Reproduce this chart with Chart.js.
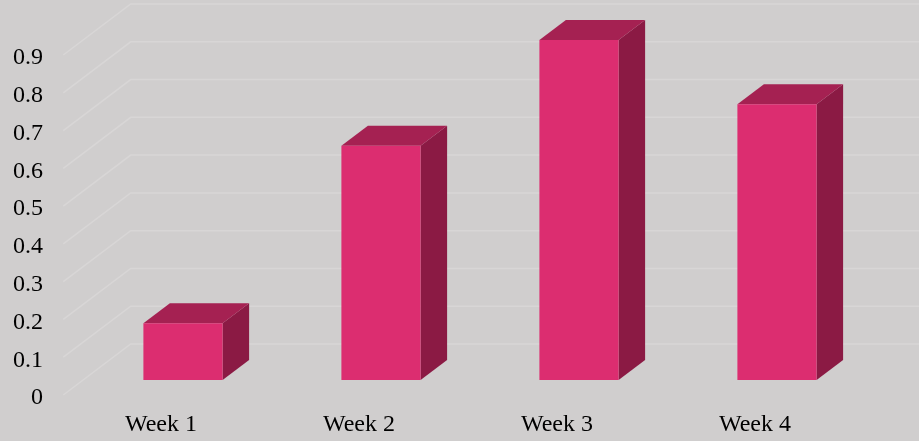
<!DOCTYPE html>
<html lang="en">
<head>
    <meta charset="UTF-8">
    <title>Weekly values</title>
    <script src="https://cdn.jsdelivr.net/npm/chart.js"></script>
    <style>
        html, body { margin: 0; padding: 0; background: #d0cece; overflow: hidden; }
        canvas { display: block; }
    </style>
</head>
<body>
    <canvas id="chart" width="919" height="441"></canvas>
    <script>
    // Values
    const weeks = ['Week 1', 'Week 2', 'Week 3', 'Week 4'];
    const values = [0.15, 0.62, 0.9, 0.73];
    const yTickLabels = ['0', '0.1', '0.2', '0.3', '0.4', '0.5', '0.6', '0.7', '0.8', '0.9'];

    // Fake 3D: how far the walls and the bars recede from the value scale
    const floorFront = { dx: -20.7, dy: 15 };
    const floorBack = { dx: 46.7, dy: -36 };
    const barDepth = { dx: 26.5, dy: -20 };
    const gridColor = '#d8d6d6';

    function face(ctx, points, color) {
        ctx.fillStyle = color;
        ctx.beginPath();
        points.forEach((p, i) => i ? ctx.lineTo(p[0], p[1]) : ctx.moveTo(p[0], p[1]));
        ctx.closePath();
        ctx.fill();
    }

    const fake3d = {
        id: 'fake3d',
        beforeDatasetsDraw(chart) {
            const ctx = chart.ctx;
            const y = chart.scales.y;
            const left = y.right;
            ctx.save();
            ctx.strokeStyle = gridColor;
            // wall grid: side wall diagonal, then back wall line
            y.ticks.forEach(t => {
                const py = y.getPixelForValue(t.value);
                ctx.lineWidth = 1.5;
                ctx.beginPath();
                ctx.moveTo(left + floorFront.dx, py + floorFront.dy);
                ctx.lineTo(left + floorBack.dx, py + floorBack.dy);
                ctx.lineTo(chart.width, py + floorBack.dy);
                ctx.stroke();
            });
            // side and top of each bar, behind the front face
            chart.getDatasetMeta(0).data.forEach(bar => {
                const r = bar.x + bar.width / 2;
                const l = bar.x - bar.width / 2;
                const d = barDepth;
                face(ctx, [[r, bar.y], [r + d.dx, bar.y + d.dy], [r + d.dx, bar.base + d.dy], [r, bar.base]], '#8b1a44');
                face(ctx, [[l, bar.y], [l + d.dx, bar.y + d.dy], [r + d.dx, bar.y + d.dy], [r, bar.y]], '#a52152');
            });
            ctx.restore();
        }
    };

    new Chart(document.getElementById('chart'), {
        type: 'bar',
        data: {
            labels: weeks,
            datasets: [{
                data: values,
                backgroundColor: '#dc2d70',
                barPercentage: 0.4,
                categoryPercentage: 1
            }]
        },
        options: {
            responsive: false,
            animation: false,
            layout: { padding: { top: 40, right: 43 } },
            plugins: { legend: { display: false }, tooltip: { enabled: false } },
            scales: {
                x: {
                    afterFit(scale) { scale.height = 61; },
                    grid: { display: false },
                    border: { display: false },
                    ticks: {
                        color: '#000000',
                        font: { family: '"Liberation Serif"', size: 24 },
                        labelOffset: -22,
                        padding: 22,
                        maxRotation: 0
                    }
                },
                y: {
                    min: 0,
                    max: 0.9,
                    afterFit(scale) {
                        scale.width = 84;
                        scale.paddingTop = 0;
                        scale.paddingBottom = 0;
                    },
                    grid: { display: false },
                    border: { display: false },
                    ticks: {
                        stepSize: 0.1,
                        color: '#000000',
                        font: { family: '"Liberation Serif"', size: 24 },
                        labelOffset: 18,
                        padding: 33,
                        callback: (v, i) => yTickLabels[i]
                    }
                }
            }
        },
        plugins: [fake3d]
    });
    </script>
</body>
</html>
